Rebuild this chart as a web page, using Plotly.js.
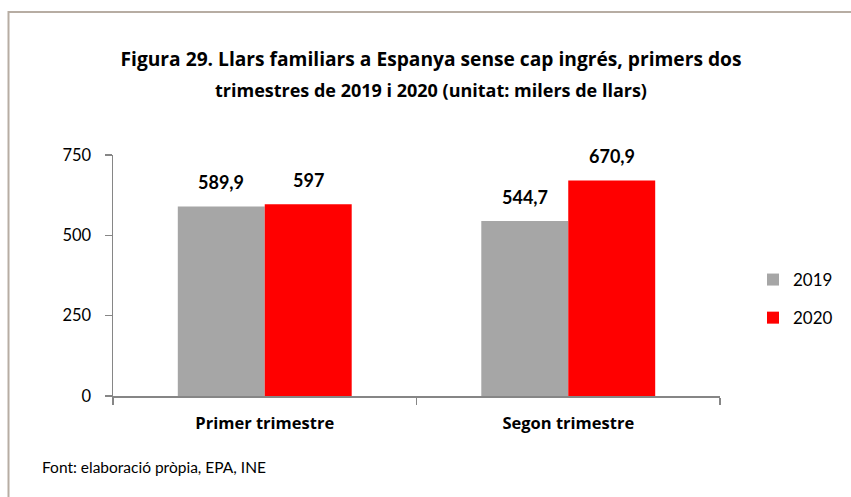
<!DOCTYPE html>
<html>
<head>
<meta charset="utf-8">
<script src="https://cdn.plot.ly/plotly-3.0.1.min.js"></script>
<style>
  html, body { margin: 0; padding: 0; background: #fff; }
  #chart { width: 851px; height: 497px; }
</style>
</head>
<body>
<div id="chart"></div>
<script>
const categories = ["Primer trimestre", "Segon trimestre"];
const series2019 = [589.9, 544.7];
const series2020 = [597, 670.9];
const seriesNames = ["2019", "2020"];
const titleLine1 = "Figura 29. Llars familiars a Espanya sense cap ingrés, primers dos";
const titleLine2 = "trimestres de 2019 i 2020 (unitat: milers de llars)";
const sourceText = "Font: elaboració pròpia, EPA, INE";
const yTicks = [0, 250, 500, 750];

const FONT = "Lato, 'Open Sans', sans-serif";
const TFONT = "'Open Sans', Lato, sans-serif";
const colors = ["#a6a6a6", "#ff0000"];

const fmt = v => String(v).replace(".", ",");

const traces = [series2019, series2020].map((vals, i) => ({
  type: "bar",
  name: seriesNames[i],
  legendgroup: seriesNames[i],
  x: categories,
  y: vals,
  marker: { color: colors[i], line: { width: 0 } },
  hoverinfo: "skip"
}));

const annotations = [];
[series2019, series2020].forEach((vals, i) => {
  vals.forEach((v, j) => {
    annotations.push({
      x: categories[j], y: v, xref: "x", yref: "y",
      xshift: i === 0 ? -43.5 : 43.5, yshift: 11,
      text: "<b>" + fmt(v) + "</b>", showarrow: false,
      yanchor: "bottom", xanchor: "center",
      font: { family: FONT, size: 18, color: "#000" }
    });
  });
});
annotations.push({
  xref: "paper", yref: "paper", x: (431 - 113) / 607, y: (396 - 90) / 241,
  text: "<b>" + titleLine2 + "</b>", showarrow: false,
  xanchor: "center", yanchor: "middle",
  font: { family: TFONT, size: 18, color: "#000" }
});
annotations.push({
  xref: "paper", yref: "paper", x: (40 - 113) / 607, y: (396 - 467) / 241,
  text: sourceText, showarrow: false, xanchor: "left", yanchor: "middle",
  font: { family: FONT, size: 15.5, color: "#000" }
});

const layout = {
  width: 851, height: 497,
  margin: { l: 113, r: 131, t: 155, b: 101, pad: 0 },
  paper_bgcolor: "#ffffff", plot_bgcolor: "#ffffff",
  separators: ", ",
  font: { family: FONT, color: "#000" },
  title: {
    text: "<b>" + titleLine1 + "</b>",
    x: 431 / 851, xanchor: "center", xref: "container",
    y: 1 - 59 / 497, yanchor: "middle", yref: "container",
    font: { family: TFONT, size: 19.2, color: "#000" }
  },
  barmode: "group",
  bargap: 0.427, bargroupgap: 0,
  showlegend: true,
  legend: {
    x: (753 - 113) / 607, xanchor: "left",
    y: (396 - 299) / 241, yanchor: "middle",
    traceorder: "grouped", tracegroupgap: 13,
    font: { family: FONT, size: 17, color: "#000" },
    bgcolor: "rgba(0,0,0,0)"
  },
  xaxis: {
    type: "category",
    showline: true, linecolor: "#868686", linewidth: 1.5,
    ticks: "outside", tickson: "boundaries", ticklen: 7, tickcolor: "#868686", tickwidth: 1.5,
    showgrid: false, zeroline: false,
    tickfont: { family: TFONT, size: 16.5, color: "#000", weight: "bold" },
    ticklabelstandoff: 12,
    fixedrange: true
  },
  yaxis: {
    range: [0, 750],
    tickvals: yTicks,
    showline: true, linecolor: "#868686", linewidth: 1.5,
    ticks: "outside", ticklen: 7, tickcolor: "#868686", tickwidth: 1.5,
    showgrid: false, zeroline: false,
    tickfont: { family: FONT, size: 16.5, color: "#000" },
    ticklabelstandoff: 10,
    fixedrange: true
  },
  annotations: annotations,
  shapes: [{
    type: "rect", xref: "paper", yref: "paper", layer: "below",
    x0: (8.5 - 113) / 607, x1: 3,
    y0: -3, y1: (396 - 12) / 241,
    line: { color: "#b7ada3", width: 2 }, fillcolor: "rgba(0,0,0,0)"
  }]
};

Plotly.newPlot("chart", traces, layout, { displayModeBar: false, staticPlot: true });
</script>
</body>
</html>
